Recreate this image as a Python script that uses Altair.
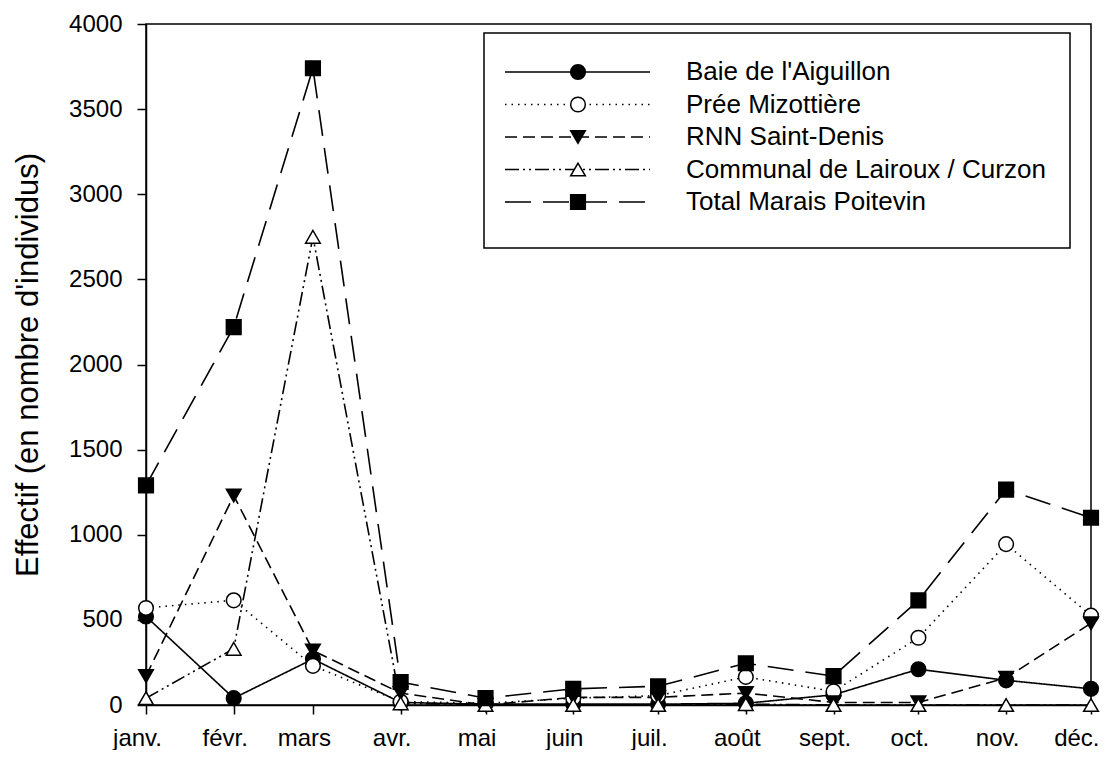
import altair as alt
import pandas as pd

# ---------------- data ----------------
months = ["janv.", "févr.", "mars", "avr.", "mai", "juin",
          "juil.", "août", "sept.", "oct.", "nov.", "déc."]
month_start_day = [0, 31, 59, 90, 120, 151, 181, 212, 243, 273, 304, 334]

series_names = ["Baie de l'Aiguillon", "Prée Mizottière", "RNN Saint-Denis",
                "Communal de Lairoux / Curzon", "Total Marais Poitevin"]

baie = [520, 40, 270, 15, 5, 5, 5, 10, 60, 210, 145, 95]
pree = [570, 615, 230, 20, 10, 40, 55, 165, 80, 395, 945, 525]
rnn = [170, 1230, 320, 70, 0, 45, 45, 70, 15, 15, 160, 480]
communal = [40, 330, 2750, 10, 0, 0, 0, 5, 0, 0, 0, 0]
total = [1290, 2220, 3740, 135, 40, 95, 110, 245, 170, 615, 1265, 1100]

y_ticks = [0, 500, 1000, 1500, 2000, 2500, 3000, 3500, 4000]

values_by_series = [baie, pree, rnn, communal, total]
rows = []
for name, vals in zip(series_names, values_by_series):
    for d, v in zip(month_start_day, vals):
        rows.append({"series": name, "day": d, "value": v})
df = pd.DataFrame(rows)

# ---------------- styles ----------------
FONT = "Liberation Sans"
dashes = [[1, 0], [1.5, 5], [12, 6], [14, 4, 2, 4, 2, 4], [26, 12]]
shapes = ["circle", "circle", "triangle-down", "triangle-up", "square"]
fills = ["black", "white", "black", "white", "black"]
MARK_SIZE = 215

W, H = 945, 681
X_MAX = 334
Y_MAX = 4000
LEFT, TOP = 146, 24  # page position of plot origin


def px_to_day(px):
    return (px - LEFT) * X_MAX / W


def py_to_val(py):
    return (TOP + H - py) * Y_MAX / H


x_scale = alt.Scale(domain=[0, X_MAX], nice=False, zero=False)
y_scale = alt.Scale(domain=[0, Y_MAX], nice=False)

label_expr = ("[" + ",".join("'" + m + "'" for m in months) + "][indexof(["
              + ",".join(str(d) for d in month_start_day) + "], datum.value)]")
last_test = "datum.value == " + str(X_MAX)

x_axis = alt.Axis(values=month_start_day, labelExpr=label_expr, title=None,
                  grid=False, tickSize=9, tickWidth=1.5, tickColor="black",
                  domainColor="black", domainWidth=1.5, labelFont=FONT,
                  labelFontSize=24, labelColor="black", labelPadding=12,
                  labelAlign={"condition": {"test": last_test, "value": "right"}, "value": "center"},
                  labelOffset={"condition": {"test": last_test, "value": 8}, "value": -9},
                  labelFlush=False, labelOverlap=False, labelBound=False)
y_axis = alt.Axis(values=y_ticks, format="d", title="Effectif (en nombre d'individus)",
                  grid=False, tickSize=9, tickWidth=1.5, tickColor="black",
                  domainColor="black", domainWidth=1.5, labelFont=FONT,
                  labelFontSize=24, labelColor="black", labelPadding=15,
                  labelFlush=False, titleFont=FONT, titleFontSize=31,
                  titleFontWeight="normal", titleColor="black",
                  titleX=-118, titleBaseline="middle", titleAngle=270)

X = alt.X("day:Q", scale=x_scale, axis=x_axis)
Y = alt.Y("value:Q", scale=y_scale, axis=y_axis)
dash_enc = alt.StrokeDash("series:N", scale=alt.Scale(domain=series_names, range=dashes), legend=None)
shape_enc = alt.Shape("series:N", scale=alt.Scale(domain=series_names, range=shapes), legend=None)
fill_enc = alt.Fill("series:N", scale=alt.Scale(domain=series_names, range=fills), legend=None)

lines = alt.Chart(df).mark_line(color="black", strokeWidth=1.6).encode(
    x=X, y=Y, strokeDash=dash_enc, detail="series:N")

points = alt.Chart(df).mark_point(filled=True, size=MARK_SIZE, stroke="black",
                                  strokeWidth=1.5, opacity=1).encode(
    x=X, y=Y, shape=shape_enc, fill=fill_enc)

# ---------------- legend (drawn in plot coordinates) ----------------
leg_row_py = [72, 104.5, 137, 169.5, 202]
leg = pd.DataFrame({
    "series": series_names,
    "value": [py_to_val(p) for p in leg_row_py],
    "day": [px_to_day(505)] * 5,
    "day2": [px_to_day(650)] * 5,
    "mid": [px_to_day(578)] * 5,
    "tx": [px_to_day(686)] * 5,
})
box_df = pd.DataFrame({"day": [px_to_day(484)], "day2": [px_to_day(1070)],
                       "value": [py_to_val(33)], "value2": [py_to_val(248)]})

box = alt.Chart(box_df).mark_rect(fill="white", stroke="black", strokeWidth=1.5).encode(
    x=X, x2="day2:Q", y=Y, y2="value2:Q")
leg_rules = alt.Chart(leg).mark_rule(color="black", strokeWidth=1.6).encode(
    x=X, x2="day2:Q", y=Y, strokeDash=dash_enc)
leg_points = alt.Chart(leg).mark_point(filled=True, size=MARK_SIZE, stroke="black",
                                       strokeWidth=1.5, opacity=1).encode(
    x=alt.X("mid:Q", scale=x_scale, axis=x_axis), y=Y, shape=shape_enc, fill=fill_enc)
leg_text = alt.Chart(leg).mark_text(align="left", baseline="middle", font=FONT,
                                    fontSize=26, color="black").encode(
    x=alt.X("tx:Q", scale=x_scale, axis=x_axis), y=Y, text="series:N")

chart = alt.layer(box, lines, points, leg_rules, leg_points, leg_text).properties(
    width=W, height=H,
    padding={"left": LEFT - 8, "top": TOP - 8, "right": 9, "bottom": 45},
    autosize=alt.AutoSizeParams(type="none"),
).configure_view(stroke="black", strokeWidth=1.5)

chart.save("out.html", embed_options={"renderer": "svg", "actions": False})
